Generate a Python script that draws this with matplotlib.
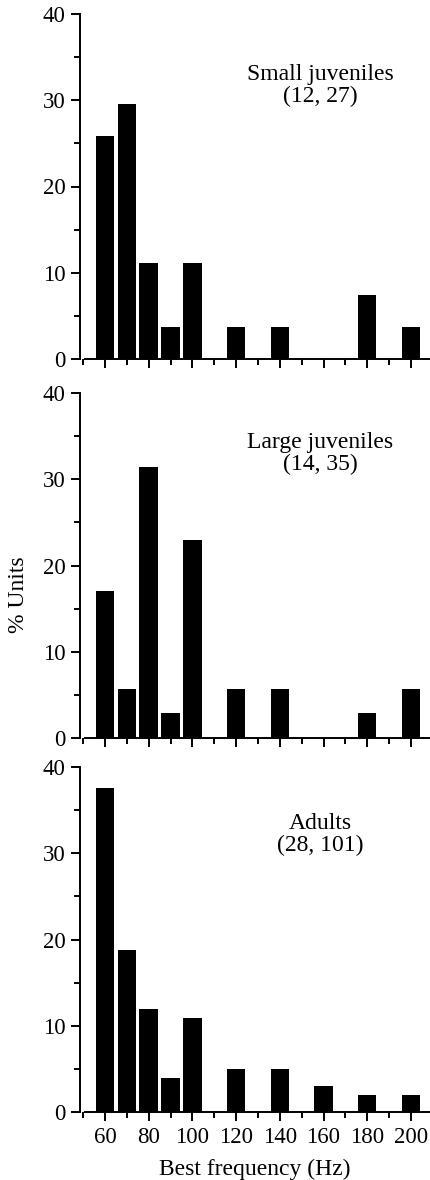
import matplotlib
matplotlib.use("Agg")
from matplotlib import pyplot as plt
from matplotlib.ticker import MultipleLocator

plt.rcParams['font.family'] = ['Liberation Serif', 'DejaVu Serif']

freqs = [60, 70, 80, 90, 100, 110, 120, 130, 140, 150, 160, 170, 180, 190, 200]

small_juv = [25.9, 29.6, 11.1, 3.7, 11.1, 0, 3.7, 0, 3.7, 0, 0, 0, 7.4, 0, 3.7]
large_juv = [17.1, 5.7, 31.4, 2.9, 22.9, 0, 5.7, 0, 5.7, 0, 0, 0, 2.9, 0, 5.7]
adults = [37.6, 18.8, 11.9, 4.0, 10.9, 0, 5.0, 0, 5.0, 0, 3.0, 0, 2.0, 0, 2.0]

labels = ['Small juveniles\n(12, 27)', 'Large juveniles\n(14, 35)', 'Adults\n(28, 101)']
series = [small_juv, large_juv, adults]

fig = plt.figure(figsize=(4.3, 11.8), dpi=100)

bottoms = [1 - 359 / 1180, 1 - 738 / 1180, 1 - 1112 / 1180]
label_y = [0.794, 0.825, 0.805]

for i in range(3):
    ax = fig.add_axes([80 / 430, bottoms[i], 350 / 430, 345 / 1180])
    ax.bar(freqs, series[i], width=8.4, color='black')
    ax.set_xlim(48.6, 208.7)
    ax.set_ylim(0, 40)
    ax.spines['top'].set_visible(False)
    ax.spines['right'].set_visible(False)
    ax.spines['left'].set_linewidth(1.4)
    ax.spines['bottom'].set_linewidth(1.4)
    ax.spines['bottom'].set_bounds(51, 208.7)
    ax.yaxis.set_major_locator(MultipleLocator(10))
    ax.yaxis.set_minor_locator(MultipleLocator(5))
    ax.xaxis.set_minor_locator(MultipleLocator(10))
    ax.set_xticks(range(60, 201, 20))
    ax.tick_params(which='major', direction='out', length=6.5, width=1.4, labelsize=16.5, pad=4)
    ax.tick_params(which='minor', direction='out', length=4.3, width=1.4)
    if i < 2:
        ax.tick_params(axis='x', labelbottom=False)
    ax.text(0.686, label_y[i], labels[i], transform=ax.transAxes, ha='center', va='center',
            fontsize=17, linespacing=1.05)
    if i == 2:
        ax.set_xlabel('Best frequency (Hz)', fontsize=17, labelpad=8)

fig.text(18 / 430, 1 - 595 / 1180, '% Units', rotation=90, ha='center', va='center', fontsize=17)

fig.savefig('out.png', dpi=100)
